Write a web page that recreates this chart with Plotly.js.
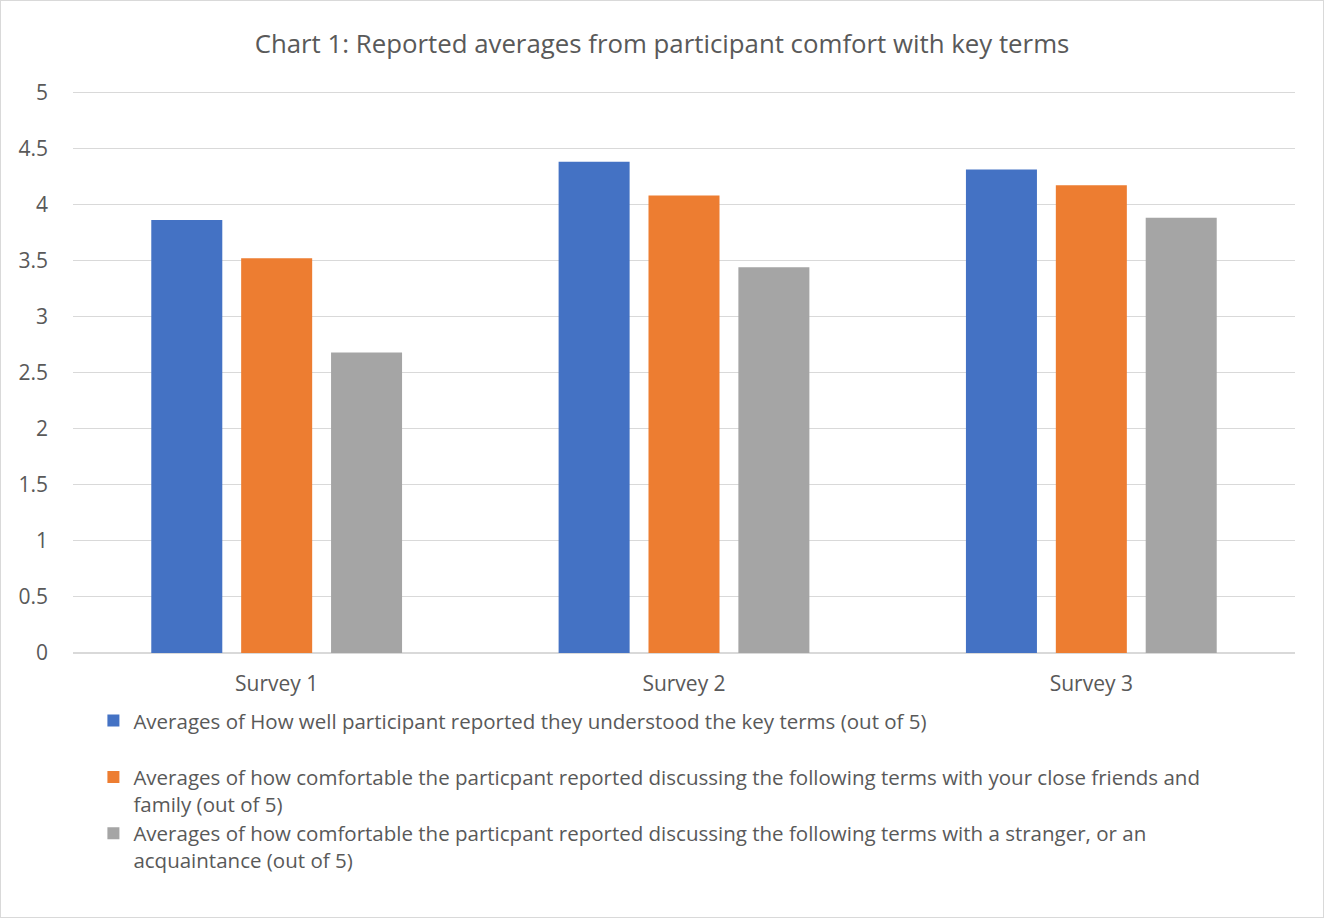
<!DOCTYPE html>
<html>
<head>
<meta charset="utf-8">
<script src="https://cdn.plot.ly/plotly-3.0.1.min.js"></script>
<style>
html,body{margin:0;padding:0;background:#fff;}
#chart{width:1324px;height:918px;box-sizing:border-box;border:1px solid #d9d9d9;}
</style>
</head>
<body>
<div id="chart"></div>
<script>
const categories = ["Survey 1", "Survey 2", "Survey 3"];
const seriesNames = [
  "Averages of How well participant reported they understood the key terms (out of 5)<br> ",
  "Averages of how comfortable the particpant reported discussing the following terms with your close friends and<br>family (out of 5)",
  "Averages of how comfortable the particpant reported discussing the following terms with a stranger, or an<br>acquaintance (out of 5)"
];
const understood = [3.86, 4.38, 4.31];
const friendsFamily = [3.52, 4.08, 4.17];
const stranger = [2.68, 3.44, 3.88];
const yTicks = [0, 0.5, 1, 1.5, 2, 2.5, 3, 3.5, 4, 4.5, 5];
const colors = ["#4472C4", "#ED7D31", "#A5A5A5"];

const allSeries = [understood, friendsFamily, stranger];
const data = allSeries.map((vals, i) => ({
  type: "bar",
  name: seriesNames[i],
  x: categories,
  y: vals,
  marker: {color: colors[i]},
  hoverinfo: "x+y"
}));

const font = "'Open Sans', sans-serif";
const layout = {
  width: 1322, height: 916,
  paper_bgcolor: "#fff", plot_bgcolor: "#fff",
  margin: {l: 72, r: 28, t: 89.3, b: 263.4},
  font: {family: font, color: "#595959", size: 20},
  title: {text: "Chart 1: Reported averages from participant comfort with key terms",
          font: {family: font, size: 25.8, color: "#595959"},
          x: 0.5, xanchor: "center", y: 0.953, yanchor: "middle"},
  barmode: "group",
  bargap: 0.338,
  bargroupgap: 0.21,
  xaxis: {showgrid: false, showline: false, zeroline: false, ticks: "",
          tickfont: {size: 21, color: "#595959"}, ticklabelstandoff: 15},
  yaxis: {range: [-0.01, 5.02], tickvals: yTicks, ticktext: yTicks.map(String),
          showgrid: true, gridcolor: "#d9d9d9", gridwidth: 1.3,
          zeroline: false, showline: false, ticks: "",
          tickfont: {size: 21, color: "#595959"}, ticklabelstandoff: 24},
  showlegend: true,
  legend: {orientation: "v", x: 0.0167, xanchor: "left", y: -0.0829, yanchor: "top",
           valign: "top", font: {size: 20.5, color: "#595959"}, itemwidth: 30,
           bgcolor: "rgba(0,0,0,0)", traceorder: "normal"}
};
Plotly.newPlot("chart", data, layout, {displayModeBar: false, staticPlot: true});
</script>
</body>
</html>
